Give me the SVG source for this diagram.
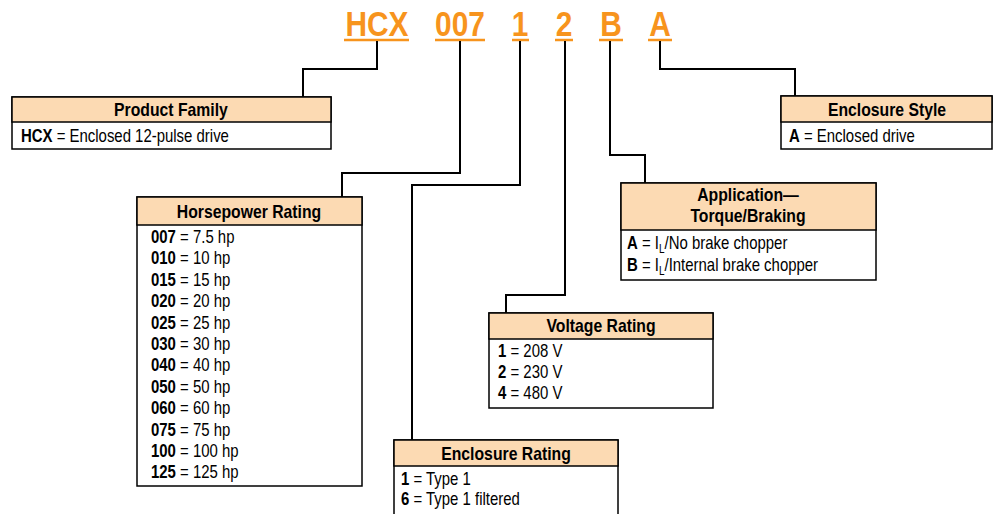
<svg xmlns="http://www.w3.org/2000/svg" width="993" height="514" viewBox="0 0 993 514">
<style>
text{font-family:"Liberation Sans",Arial,sans-serif}
.code{font-weight:bold;font-size:36px;fill:#F7941D;text-anchor:middle}
.ul{stroke:#F7941D;stroke-width:2.5}
.box{fill:#fff;stroke:#000;stroke-width:1.5}
.hdr{fill:#FCDAB3;stroke:#000;stroke-width:1.5}
.ht{font-weight:bold;font-size:19px;fill:#000;text-anchor:middle}
.bt{font-size:18px;fill:#000}
.b{font-weight:bold}
.conn{fill:none;stroke:#000;stroke-width:2}
</style>
<rect width="993" height="514" fill="#fff"/>
<g id="codes">
<text class="code" transform="translate(377 36) scale(.83 1)">HCX</text>
<line class="ul" x1="344" y1="40" x2="409" y2="40"/>
<text class="code" transform="translate(460 36) scale(.83 1)">007</text>
<line class="ul" x1="435" y1="40" x2="485" y2="40"/>
<text class="code" transform="translate(520 36) scale(.83 1)">1</text>
<line class="ul" x1="512" y1="40" x2="529" y2="40"/>
<text class="code" transform="translate(564 36) scale(.83 1)">2</text>
<line class="ul" x1="555" y1="40" x2="573" y2="40"/>
<text class="code" transform="translate(611 36) scale(.83 1)">B</text>
<line class="ul" x1="599" y1="40" x2="623" y2="40"/>
<text class="code" transform="translate(660 36) scale(.83 1)">A</text>
<line class="ul" x1="648" y1="40" x2="672" y2="40"/>
</g>
<g id="connectors">
<path class="conn" d="M377,41 V69 H303 V97"/>
<path class="conn" d="M460,41 V173 H342 V197"/>
<path class="conn" d="M520,41 V185 H412 V440"/>
<path class="conn" d="M565,41 V295 H506 V313"/>
<path class="conn" d="M610,41 V155 H645 V183"/>
<path class="conn" d="M660,41 V69 H795 V96"/>
</g>
<g id="product-family">
<rect class="box" x="12" y="97" width="319" height="52"/>
<rect class="hdr" x="12" y="97" width="319" height="25"/>
<text class="ht" transform="translate(171 115.5) scale(.83 1)">Product Family</text>
<text class="bt" transform="translate(21 141.5) scale(.83 1)"><tspan class="b">HCX</tspan> = Enclosed 12-pulse drive</text>
</g>
<g id="enclosure-style">
<rect class="box" x="781" y="96" width="211" height="53"/>
<rect class="hdr" x="781" y="96" width="211" height="26"/>
<text class="ht" transform="translate(887 115.5) scale(.83 1)">Enclosure Style</text>
<text class="bt" transform="translate(789 141.5) scale(.83 1)"><tspan class="b">A</tspan> = Enclosed drive</text>
</g>
<g id="horsepower-rating">
<rect class="box" x="137" y="197" width="225" height="289"/>
<rect class="hdr" x="137" y="197" width="225" height="28"/>
<text class="ht" transform="translate(249 217.5) scale(.83 1)">Horsepower Rating</text>
<text class="bt" transform="translate(151 243) scale(.83 1)"><tspan class="b">007</tspan> = 7.5 hp</text>
<text class="bt" transform="translate(151 264.4) scale(.83 1)"><tspan class="b">010</tspan> = 10 hp</text>
<text class="bt" transform="translate(151 285.8) scale(.83 1)"><tspan class="b">015</tspan> = 15 hp</text>
<text class="bt" transform="translate(151 307.2) scale(.83 1)"><tspan class="b">020</tspan> = 20 hp</text>
<text class="bt" transform="translate(151 328.6) scale(.83 1)"><tspan class="b">025</tspan> = 25 hp</text>
<text class="bt" transform="translate(151 350) scale(.83 1)"><tspan class="b">030</tspan> = 30 hp</text>
<text class="bt" transform="translate(151 371.4) scale(.83 1)"><tspan class="b">040</tspan> = 40 hp</text>
<text class="bt" transform="translate(151 392.8) scale(.83 1)"><tspan class="b">050</tspan> = 50 hp</text>
<text class="bt" transform="translate(151 414.2) scale(.83 1)"><tspan class="b">060</tspan> = 60 hp</text>
<text class="bt" transform="translate(151 435.6) scale(.83 1)"><tspan class="b">075</tspan> = 75 hp</text>
<text class="bt" transform="translate(151 457) scale(.83 1)"><tspan class="b">100</tspan> = 100 hp</text>
<text class="bt" transform="translate(151 478.4) scale(.83 1)"><tspan class="b">125</tspan> = 125 hp</text>
</g>
<g id="application">
<rect class="box" x="621" y="183" width="255" height="97"/>
<rect class="hdr" x="621" y="183" width="255" height="47"/>
<text class="ht" transform="translate(748 201) scale(.83 1)">Application—</text>
<text class="ht" transform="translate(748 222) scale(.83 1)">Torque/Braking</text>
<text class="bt" transform="translate(627 249) scale(.83 1)"><tspan class="b">A</tspan> = I<tspan font-size="12" dy="4">L</tspan><tspan dy="-4">/No brake chopper</tspan></text>
<text class="bt" transform="translate(627 271) scale(.83 1)"><tspan class="b">B</tspan> = I<tspan font-size="12" dy="4">L</tspan><tspan dy="-4">/Internal brake chopper</tspan></text>
</g>
<g id="voltage-rating">
<rect class="box" x="489" y="313" width="224" height="95"/>
<rect class="hdr" x="489" y="313" width="224" height="26"/>
<text class="ht" transform="translate(601 331.5) scale(.83 1)">Voltage Rating</text>
<text class="bt" transform="translate(498 357) scale(.83 1)"><tspan class="b">1</tspan> = 208 V</text>
<text class="bt" transform="translate(498 378) scale(.83 1)"><tspan class="b">2</tspan> = 230 V</text>
<text class="bt" transform="translate(498 399) scale(.83 1)"><tspan class="b">4</tspan> = 480 V</text>
</g>
<g id="enclosure-rating">
<rect class="box" x="394" y="440" width="224" height="80"/>
<rect class="hdr" x="394" y="440" width="224" height="26"/>
<text class="ht" transform="translate(506 459.5) scale(.83 1)">Enclosure Rating</text>
<text class="bt" transform="translate(401 485) scale(.83 1)"><tspan class="b">1</tspan> = Type 1</text>
<text class="bt" transform="translate(401 505) scale(.83 1)"><tspan class="b">6</tspan> = Type 1 filtered</text>
</g>
</svg>
